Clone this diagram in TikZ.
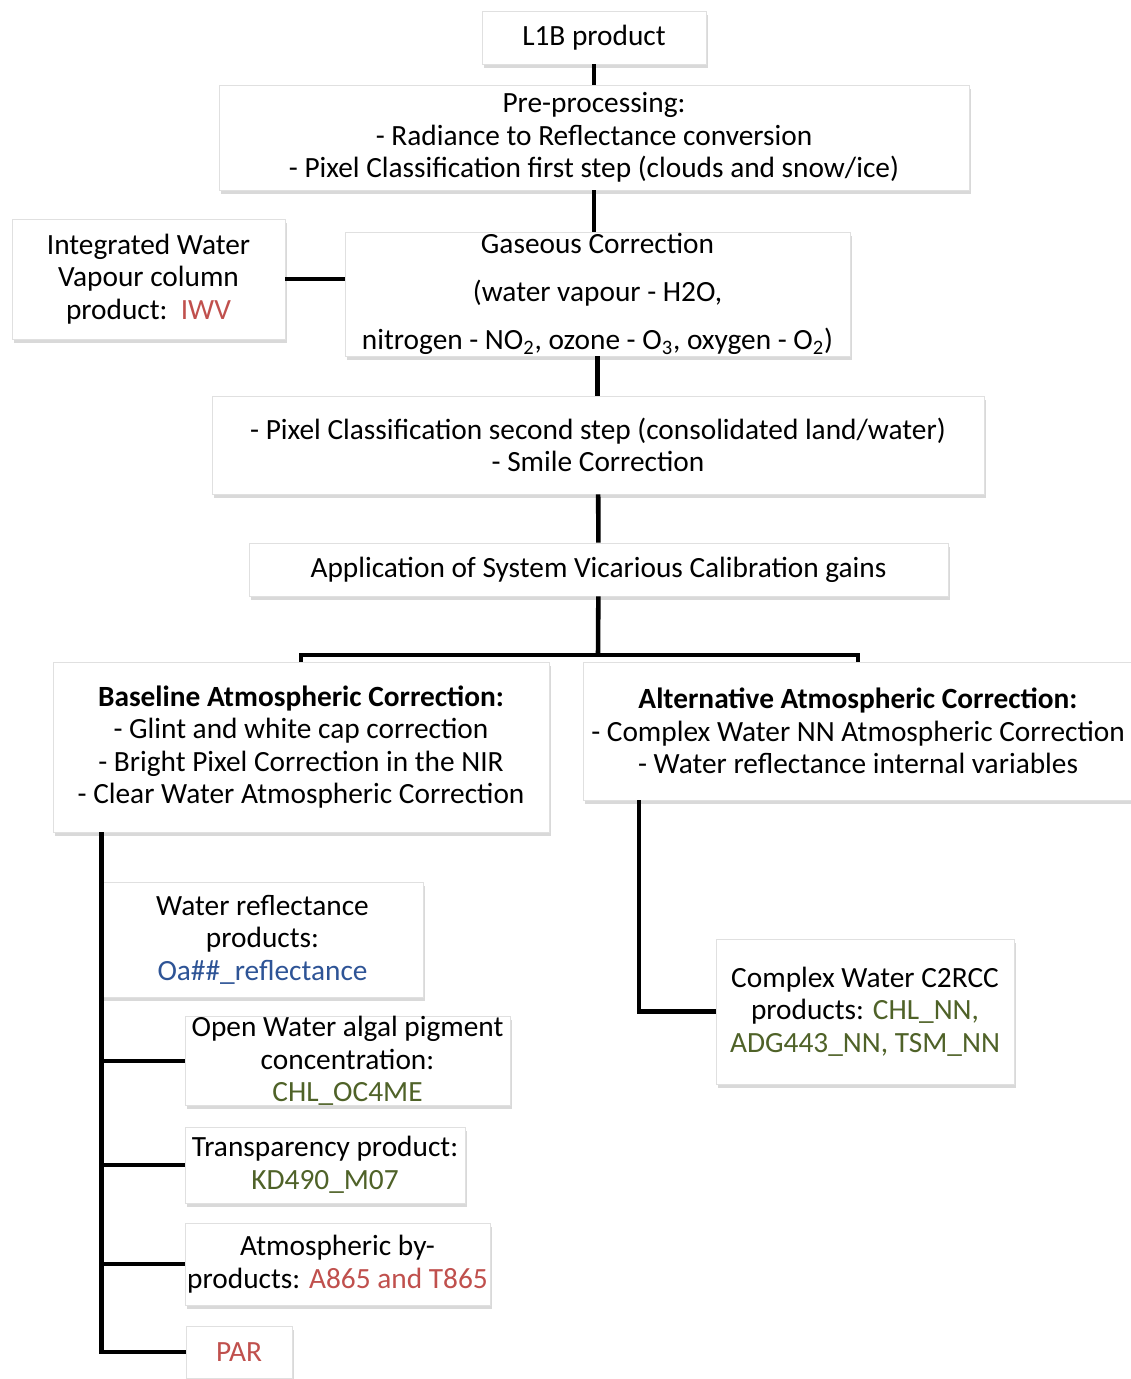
\documentclass[tikz,border=0pt]{standalone}
\usepackage{fontspec}
\setmainfont{Carlito}
\usetikzlibrary{shadows,calc}
\definecolor{redtxt}{RGB}{192,80,77}
\definecolor{bluetxt}{RGB}{46,84,150}
\definecolor{greentxt}{RGB}{79,98,40}
\tikzset{b/.style={draw=black!12, fill=white, drop shadow={shadow xshift=1pt,shadow yshift=-2pt,opacity=0.3}, align=center, inner sep=1pt, font=\fontsize{16.7}{18.5}\selectfont}}
\tikzset{w/.style={line width=2.6pt}}

\begin{document}
\begin{tikzpicture}[x=0.02cm,y=-0.02cm]
  \useasboundingbox (0,0) rectangle (1131,1379);
  \node[b, minimum width=4.48cm, minimum height=1.06cm] (l1b) at (594,37.5) {L1B product};
  \node[b, minimum width=15cm, minimum height=2.1cm] (pre) at (594,137.5) {Pre-processing:\\- Radiance to Reflectance conversion\\- Pixel Classification first step (clouds and snow/ice)};
  \node[b, minimum width=5.46cm, minimum height=2.4cm] (iwv) at (148.5,279) {Integrated Water\\Vapour column\\product:\ \ \textcolor{redtxt}{IWV}};
  \node[b, minimum width=10.1cm, minimum height=2.48cm, inner ysep=0pt, font=\fontsize{16.7}{27.4}\selectfont] (gas) at (597.5,294) {Gaseous Correction\\(water vapour - H2O,\\nitrogen - NO\textsubscript{2}, ozone - O\textsubscript{3}, oxygen - O\textsubscript{2})};
  \node[b, minimum width=15.44cm, minimum height=1.96cm] (pix) at (598,445) {- Pixel Classification second step (consolidated land/water)\\- Smile Correction};
  \node[b, minimum width=13.98cm, minimum height=1.06cm] (svc) at (598.5,569.5) {Application of System Vicarious Calibration gains};
  \node[b, minimum width=9.92cm, minimum height=3.4cm] (base) at (301,747) {\textbf{Baseline Atmospheric Correction:}\\- Glint and white cap correction\\- Bright Pixel Correction in the NIR\\- Clear Water Atmospheric Correction};
  \node[b, minimum width=11cm, minimum height=2.76cm] (alt) at (858,731) {\textbf{Alternative Atmospheric Correction:}\\- Complex Water NN Atmospheric Correction\\- Water reflectance internal variables};
  \node[b, minimum width=6.42cm, minimum height=2.3cm] (wref) at (262.5,939.5) {Water reflectance\\products:\\\textcolor{bluetxt}{Oa\#\#\_reflectance}};
  \node[b, minimum width=6.5cm, minimum height=1.76cm, inner ysep=0pt] (chl) at (347.5,1061) {Open Water algal pigment\\concentration:\\\textcolor{greentxt}{CHL\_OC4ME}};
  \node[b, minimum width=5.6cm, minimum height=1.52cm] (kd) at (325,1165) {Transparency product:\\\textcolor{greentxt}{KD490\_M07}};
  \node[b, minimum width=6.1cm, minimum height=1.64cm] (atm) at (337.5,1264) {Atmospheric by-\\products: \textcolor{redtxt}{A865 and T865}};
  \node[b, minimum width=2.12cm, minimum height=1.04cm] (par) at (239,1352) {\textcolor{redtxt}{PAR}};
  \node[b, minimum width=5.96cm, minimum height=2.9cm] (c2rcc) at (865,1011.5) {Complex Water C2RCC\\products: \textcolor{greentxt}{CHL\_NN,}\\\textcolor{greentxt}{ADG443\_NN, TSM\_NN}};

  \draw[w] (l1b) -- (pre);
  \draw[w] (pre.south) -- (pre.south |- gas.north);
  \draw[w] (iwv.east) -- (iwv.east -| gas.west);
  \draw[w] (gas.south) -- (gas.south |- pix.north);
  \draw[w] (pix) -- (svc);
  \coordinate (split) at (598,655);
  \draw[w] (svc) -- (split);
  \draw[w] (base.north) |- (split) -| (alt.north);
  \draw[w] (wref.west |- base.south) -- (wref.west |- par.west) -- (par.west);
  \foreach \n in {chl,kd,atm}
    \draw[w] (wref.west |- \n.west) -- (\n.west);
  \coordinate (alttap) at (639,800);
  \draw[w] (alttap) |- (c2rcc.west);
\end{tikzpicture}
\end{document}
